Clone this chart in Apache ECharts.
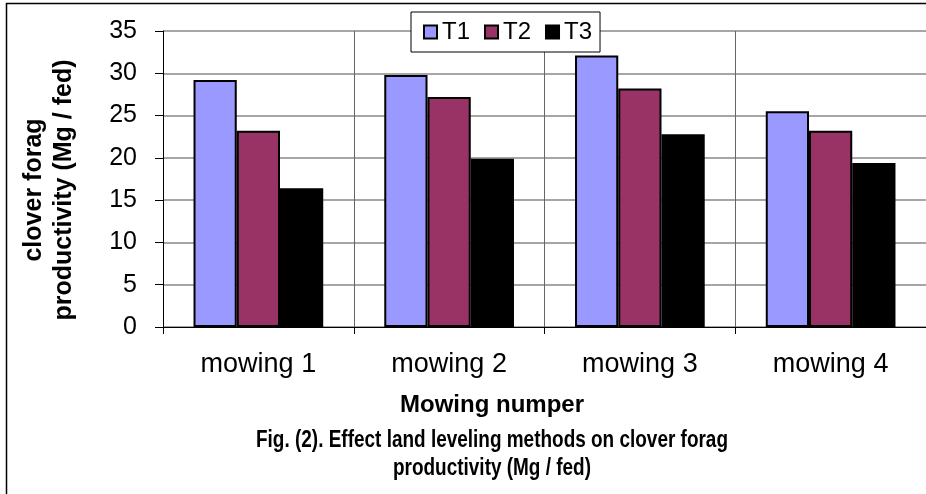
<!DOCTYPE html>
<html>
<head>
<meta charset="utf-8">
<script src="https://cdn.jsdelivr.net/npm/echarts@6/dist/echarts.min.js"></script>
<style>
  html, body { margin: 0; padding: 0; background: #fff; }
  #chart { width: 926px; height: 494px; }
</style>
</head>
<body>
<div id="chart"></div>
<script>
// data
const categories = ["mowing 1", "mowing 2", "mowing 3", "mowing 4"];
const seriesNames = ["T1", "T2", "T3"];
const t1 = [29.2, 29.8, 32.1, 25.5];
const t2 = [23.2, 27.2, 28.2, 23.2];
const t3 = [16.4, 19.9, 22.8, 19.4];
const colors = ["#9999FF", "#993366", "#000000"];

const font = "Liberation Sans, Arial, sans-serif";

const chart = echarts.init(document.getElementById("chart"));

const barSeries = [t1, t2, t3].map((vals, i) => ({
  name: seriesNames[i],
  type: "bar",
  data: vals,
  barGap: "0%",
  barCategoryGap: "32%",
  itemStyle: { color: colors[i], borderColor: "#000", borderWidth: 2 }
}));

chart.setOption({
  animation: false,
  backgroundColor: "#fff",
  grid: { left: 163, right: -4, top: 31, bottom: 167 },
  legend: {
    data: seriesNames,
    left: 411,
    top: 12,
    orient: "horizontal",
    icon: "rect",
    itemWidth: 13,
    itemHeight: 13,
    itemGap: 14,
    padding: [8, 8, 8, 12],
    borderColor: "#000",
    borderWidth: 1,
    backgroundColor: "#fff",
    itemStyle: { borderColor: "#000", borderWidth: 2 },
    textStyle: { fontFamily: font, fontSize: 24, color: "#000" }
  },
  xAxis: {
    type: "category",
    data: categories,
    axisLine: { lineStyle: { color: "#000", width: 1 } },
    axisTick: { show: true, length: 7, lineStyle: { color: "#000" } },
    axisLabel: { fontFamily: font, fontSize: 27, color: "#000", margin: 24 },
    splitLine: { show: true, lineStyle: { color: "#666", width: 1 } }
  },
  yAxis: {
    type: "value",
    min: 0,
    max: 35,
    interval: 5,
    axisLine: { show: true, lineStyle: { color: "#000", width: 1 } },
    axisTick: { show: true, length: 8, lineStyle: { color: "#000" } },
    axisLabel: { fontFamily: font, fontSize: 25, color: "#000", margin: 26 },
    splitLine: { show: true, lineStyle: { color: "#888", width: 1.5 } }
  },
  series: barSeries,
  graphic: [
    // outer frame (right and bottom edges fall off the picture)
    {
      type: "rect",
      silent: true,
      shape: { x: 6.5, y: 3.5, width: 1000, height: 1000 },
      style: { fill: "none", stroke: "#000", lineWidth: 1.5 }
    },
    // y axis name, two lines, rotated
    {
      type: "text",
      x: 49,
      y: 190,
      rotation: Math.PI / 2,
      style: {
        text: "clover forag\nproductivity (Mg / fed)",
        font: "bold 25px " + font,
        fill: "#000",
        align: "center",
        verticalAlign: "middle",
        lineHeight: 30
      }
    },
    // x axis name
    {
      type: "text",
      x: 492,
      y: 405,
      style: {
        text: "Mowing numper",
        font: "bold 24px " + font,
        fill: "#000",
        align: "center",
        verticalAlign: "middle"
      }
    },
    // caption, narrow bold like the original
    {
      type: "text",
      x: 492,
      y: 454,
      scaleX: 0.79,
      style: {
        text: "Fig. (2). Effect land leveling methods on clover forag\nproductivity (Mg / fed)",
        font: "bold 24px " + font,
        fill: "#000",
        align: "center",
        verticalAlign: "middle",
        lineHeight: 28
      }
    }
  ]
});
</script>
</body>
</html>
